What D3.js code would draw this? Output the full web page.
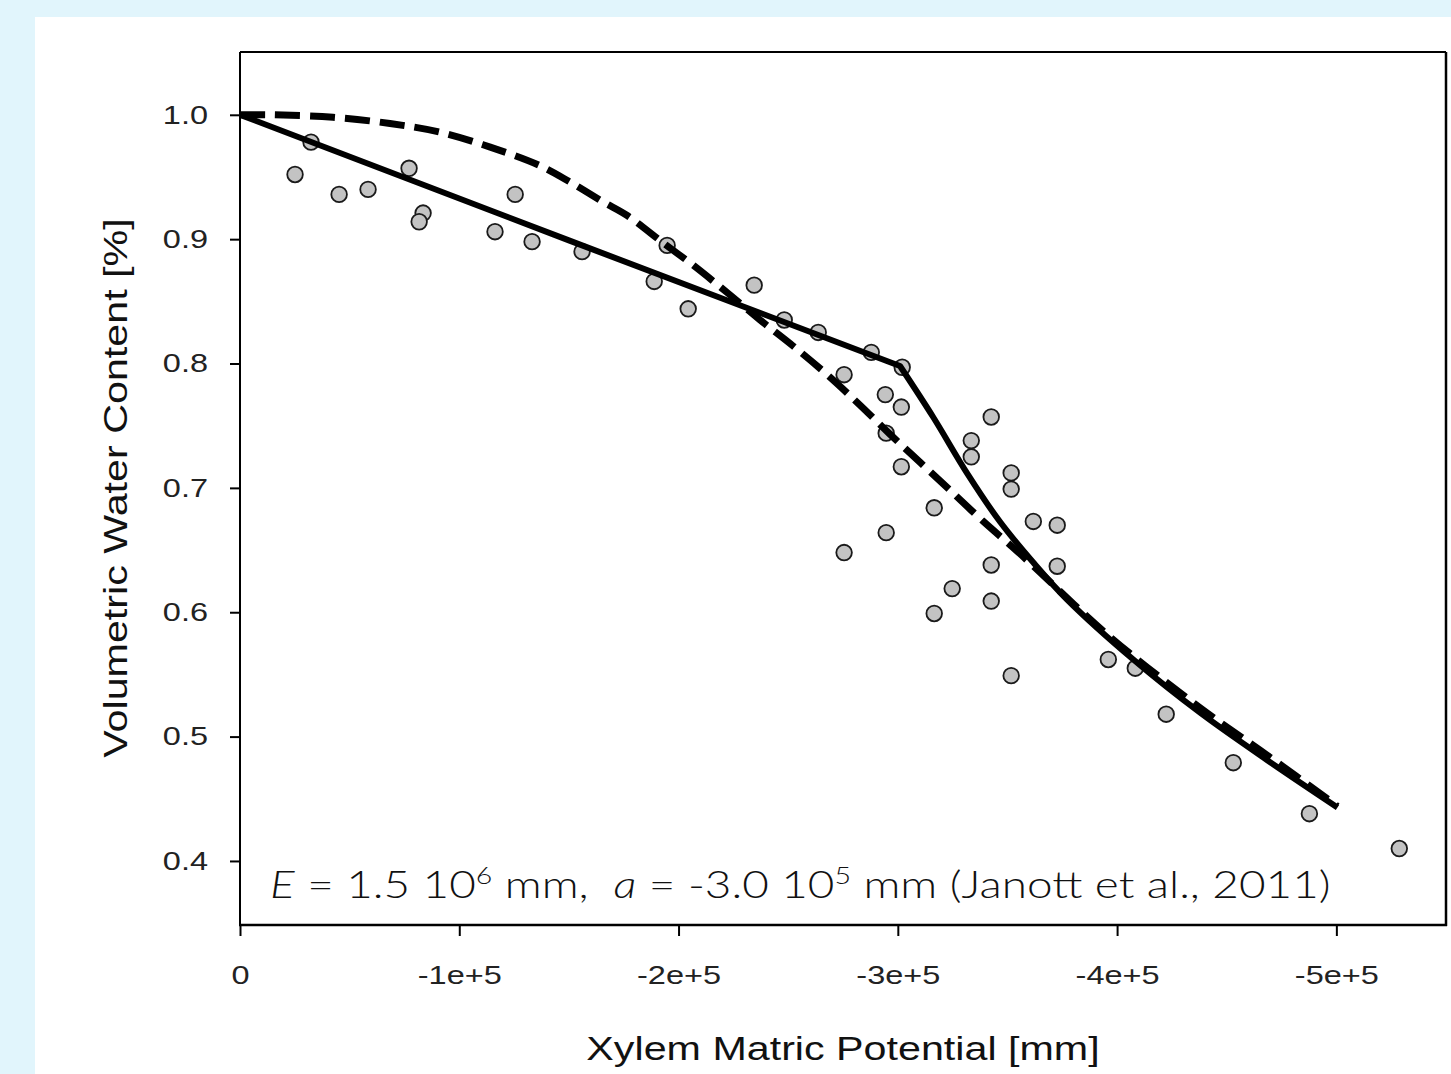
<!DOCTYPE html>
<html>
<head>
<meta charset="utf-8">
<script src="https://cdn.jsdelivr.net/npm/d3@7"></script>
<style>
  html, body { margin: 0; padding: 0; background: #e1f5fc; }
  svg { display: block; }
</style>
</head>
<body>
<svg id="chart" width="1451" height="1074"></svg>
<script>
// ---- Data ----
const xTicks = [0, -100000, -200000, -300000, -400000, -500000];
const xTickLabels = ["0", "-1e+5", "-2e+5", "-3e+5", "-4e+5", "-5e+5"];
const yTicks = [0.4, 0.5, 0.6, 0.7, 0.8, 0.9, 1.0];
const yTickLabels = ["0.4", "0.5", "0.6", "0.7", "0.8", "0.9", "1.0"];

// observations: xylem matric potential [mm], volumetric water content
const obsX = [-25100, -32400, -45200, -58400, -77100, -83500, -81700, -116300, -125500, -133200,
  -156000, -188900, -194800, -204400, -234500, -248200, -263700, -287900, -302000, -275500,
  -294300, -301600, -342600, -294700, -333500, -333500, -301600, -351700, -351700, -316600,
  -361800, -372700, -294700, -275500, -342600, -372700, -324800, -342600, -316600, -351700,
  -396000, -408300, -422400, -453000, -487700, -528700];
const obsY = [0.952, 0.978, 0.936, 0.940, 0.957, 0.921, 0.914, 0.906, 0.936, 0.898,
  0.890, 0.866, 0.895, 0.844, 0.863, 0.835, 0.825, 0.809, 0.797, 0.791,
  0.775, 0.765, 0.757, 0.744, 0.738, 0.725, 0.717, 0.712, 0.699, 0.684,
  0.673, 0.670, 0.664, 0.648, 0.638, 0.637, 0.619, 0.609, 0.599, 0.549,
  0.562, 0.555, 0.518, 0.479, 0.438, 0.410];

// solid model curve: straight part, then curved part
const solidLinX = [0, -150000, -301000];
const solidLinY = [1.0, 0.899, 0.798];
const solidCurveX = [-301000, -316100, -331700, -346700, -361800, -377300, -407400, -438000, -468500, -500500];
const solidCurveY = [0.798, 0.757, 0.7115, 0.6725, 0.640, 0.610, 0.562, 0.519, 0.481, 0.443];

// dashed model curve
const dashX = [0, -15000, -42400, -68400, -91200, -114100, -136900, -150500, -165600, -176600, -193000,
  -206700, -222200, -237200, -252300, -267800, -282800, -296500, -310200, -323900, -339000,
  -354500, -396900, -438000, -468500, -500500];
const dashY = [1.0, 1.0, 0.998, 0.993, 0.986, 0.974, 0.959, 0.946, 0.930, 0.919, 0.897,
  0.879, 0.857, 0.835, 0.814, 0.791, 0.7665, 0.743, 0.7205, 0.698, 0.673,
  0.649, 0.580, 0.523, 0.485, 0.444];

const xTitle = "Xylem Matric Potential [mm]";
const yTitle = "Volumetric Water Content [%]";

// ---- Drawing ----
const svg = d3.select("#chart");
svg.append("rect").attr("x", 35).attr("y", 17).attr("width", 1451 - 35).attr("height", 1074 - 17).attr("fill", "#ffffff");

const pL = 240, pR = 1446, pT = 52, pB = 925;
const x = d3.scaleLinear().domain([0, -550000]).range([pL, pR]);
const y = d3.scaleLinear().domain([0.3485, 1.0505]).range([pB, pT]);

const font = "'Liberation Sans', Arial, sans-serif";
const stretch = 1.25; // the reference text is horizontally wide

// y axis
const yAxis = svg.append("g").attr("transform", `translate(${pL},0)`)
  .call(d3.axisLeft(y).tickValues(yTicks).tickSize(10).tickPadding(16)
    .tickFormat((d, i) => yTickLabels[i]));
yAxis.select(".domain").remove();
yAxis.selectAll(".tick line").attr("stroke", "#000").attr("stroke-width", 2);
yAxis.selectAll(".tick text").attr("font-family", font).attr("font-size", 26)
  .attr("x", -32 / stretch).attr("transform", `scale(${stretch},1)`).attr("fill", "#222");

// x axis
const xAxis = svg.append("g").attr("transform", `translate(0,${pB})`)
  .call(d3.axisBottom(x).tickValues(xTicks).tickSize(11).tickPadding(30)
    .tickFormat((d, i) => xTickLabels[i]));
xAxis.select(".domain").remove();
xAxis.selectAll(".tick line").attr("stroke", "#000").attr("stroke-width", 2);
xAxis.selectAll(".tick text").attr("font-family", font).attr("font-size", 26)
  .attr("transform", `scale(${stretch},1)`).attr("fill", "#222");

// clip
svg.append("clipPath").attr("id", "clip").append("rect")
  .attr("x", pL).attr("y", pT).attr("width", pR - pL).attr("height", pB - pT);

const plot = svg.append("g").attr("clip-path", "url(#clip)");

// points
plot.selectAll("circle.obs").data(obsX.map((d, i) => [d, obsY[i]])).enter()
  .append("circle").attr("class", "obs")
  .attr("cx", d => x(d[0])).attr("cy", d => y(d[1])).attr("r", 7.8)
  .attr("fill", "#c3c3c3").attr("stroke", "#1a1a1a").attr("stroke-width", 1.8);

const lineLin = d3.line().x(d => x(d[0])).y(d => y(d[1])).curve(d3.curveLinear);
const lineCurve = d3.line().x(d => x(d[0])).y(d => y(d[1])).curve(d3.curveCatmullRom.alpha(0.5));

// dashed curve
plot.append("path")
  .attr("d", lineCurve(dashX.map((d, i) => [d, dashY[i]])))
  .attr("fill", "none").attr("stroke", "#000").attr("stroke-width", 7)
  .attr("stroke-dasharray", "25,10");

// solid curve
const dLin = lineLin(solidLinX.map((d, i) => [d, solidLinY[i]]));
const dCurve = lineCurve(solidCurveX.map((d, i) => [d, solidCurveY[i]]));
plot.append("path")
  .attr("d", dLin + dCurve.replace(/^M/, "L"))
  .attr("fill", "none").attr("stroke", "#000").attr("stroke-width", 6)
  .attr("stroke-linejoin", "round");

// frame
svg.append("line").attr("x1", pL).attr("x2", pL).attr("y1", pT).attr("y2", pB + 1).attr("stroke", "#000").attr("stroke-width", 2);
svg.append("line").attr("x1", pL).attr("x2", pR).attr("y1", pT).attr("y2", pT).attr("stroke", "#000").attr("stroke-width", 2);
svg.append("line").attr("x1", pR).attr("x2", pR).attr("y1", pT).attr("y2", pB + 1).attr("stroke", "#000").attr("stroke-width", 2.5);
svg.append("line").attr("x1", pL - 1).attr("x2", pR + 1).attr("y1", pB).attr("y2", pB).attr("stroke", "#000").attr("stroke-width", 2.5);

// annotation
const ann = svg.append("text").attr("transform", "translate(270,898) scale(1.24,1)")
  .attr("font-family", "Lato, 'Open Sans', sans-serif").attr("font-weight", 300)
  .attr("font-size", 37).attr("fill", "#111");
ann.append("tspan").attr("font-style", "italic").text("E");
ann.append("tspan").text(" = 1.5 10");
ann.append("tspan").attr("font-size", 23).attr("dy", -14).text("6");
ann.append("tspan").attr("dy", 14).text(" mm,\u00a0\u00a0");
ann.append("tspan").attr("font-style", "italic").text("a");
ann.append("tspan").text(" = -3.0 10");
ann.append("tspan").attr("font-size", 23).attr("dy", -14).text("5");
ann.append("tspan").attr("dy", 14).text(" mm (Janott et al., 2011)");

// axis titles
svg.append("text").attr("transform", `translate(843,1060) scale(${stretch},1)`).attr("text-anchor", "middle")
  .attr("font-family", font).attr("font-size", 33).attr("fill", "#111").text(xTitle);
svg.append("text").attr("transform", `translate(127,488) rotate(-90) scale(${stretch},1)`).attr("text-anchor", "middle")
  .attr("font-family", font).attr("font-size", 33).attr("fill", "#111").text(yTitle);
</script>
</body>
</html>
